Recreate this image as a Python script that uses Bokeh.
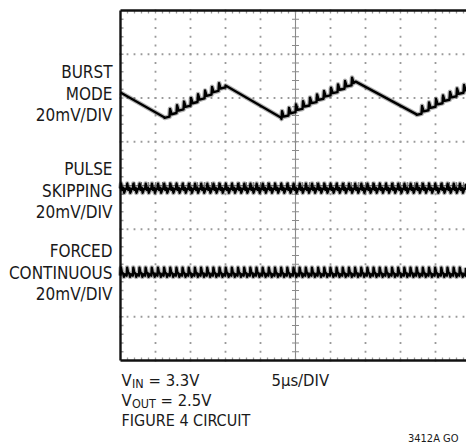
import numpy as np
from bokeh.plotting import figure
from bokeh.models import Range1d
from bokeh.core.properties import value
from bokeh.embed import file_html
from bokeh.resources import INLINE

# ---------------- data ----------------
# time in microseconds (5 us/div), voltage in mV (20 mV/div)
US_PER_DIV = 5.0
MV_PER_DIV = 20.0

# channel centre lines, in divisions from the bottom of the screen
burst_center_div = 6.0
pulse_center_div = 3.93
forced_center_div = 2.0

# Burst mode envelope vertices (time us, mV)
burst_t = [0.0, 6.3, 15.0, 22.9, 33.6, 42.3, 49.43]
burst_mv = [2.5, -8.9, 5.7, -8.9, 7.5, -7.5, 3.9]
burst_rising = [False, True, False, True, False, True]   # per segment
burst_pulse_period_us = 1.0
# ripple shape on rising segments: (phase, mV)
burst_ripple_phase = [0.0, 0.08, 0.3, 1.0]
burst_ripple_mv = [-0.8, 2.6, -0.2, -0.8]

# Pulse skipping ripple
pulse_period_us = 0.88
pulse_ripple_phase = [0.0, 0.1, 0.25, 0.45, 0.6, 0.8, 1.0]
pulse_ripple_mv = [0.0, 2.2, -0.6, 0.4, -1.9, -0.2, 0.0]

# Forced continuous ripple
forced_period_us = 0.88
forced_ripple_phase = [0.0, 0.08, 0.22, 0.45, 0.55, 0.72, 1.0]
forced_ripple_mv = [-1.2, 2.4, 0.3, -0.4, -1.7, -0.6, -1.2]

X_END = 49.43

left_labels = ["BURST", "MODE", "20mV/DIV",
               "PULSE", "SKIPPING", "20mV/DIV",
               "FORCED", "CONTINUOUS", "20mV/DIV"]

# ---------------- helpers ----------------
def tile(period, phases, mvs, t0, t1):
    ts, vs = [], []
    k = int(np.floor(t0 / period))
    while k * period < t1 + period:
        for ph, mv in zip(phases[:-1], mvs[:-1]):
            t = (k + ph) * period
            if t0 <= t <= t1:
                ts.append(t)
                vs.append(mv)
        k += 1
    return ts, vs


def burst_trace():
    ts, vs = [], []
    for i in range(len(burst_t) - 1):
        ta, tb = burst_t[i], burst_t[i + 1]
        va, vb = burst_mv[i], burst_mv[i + 1]
        if burst_rising[i]:
            rt, rv = tile(burst_pulse_period_us, burst_ripple_phase, burst_ripple_mv, ta, tb)
            ts.append(ta); vs.append(va)
            for t, r in zip(rt, rv):
                env = va + (vb - va) * (t - ta) / (tb - ta)
                ts.append(t); vs.append(env + r)
        else:
            ts.append(ta); vs.append(va)
    ts.append(burst_t[-1]); vs.append(burst_mv[-1])
    return ts, vs


def to_div(center, mvs):
    return [center + v / MV_PER_DIV for v in mvs]

# ---------------- figure (frame = whole canvas) ----------------
W, H = 466, 444
OX, OY = 0, 0           # page position of the canvas
PX_PER_US = 7.0
PX_PER_DIV = 43.75

def px2x(px):
    return (px - 120) / PX_PER_US

def py2y(py):
    return (360 - py) / PX_PER_DIV

p = figure(width=W, height=H,
           x_range=Range1d(px2x(OX), px2x(OX + W)),
           y_range=Range1d(py2y(OY + H), py2y(OY)),
           x_axis_type=None, y_axis_type=None,
           output_backend="svg", toolbar_location=None,
           min_border_left=0, min_border_right=0,
           min_border_top=0, min_border_bottom=0,
           outline_line_color=None, background_fill_color="white",
           border_fill_color="white")

T_MAX = 10 * US_PER_DIV
GRAY = "#9a9a9a"

# dotted graticule (dots at every fifth of a division)
vx = [US_PER_DIV * i for i in range(1, 10) if i != 5]
hy = [1, 2, 3, 5, 6, 7]
sub_y = np.arange(0, 8.001, 0.2)
sub_x = np.arange(0, T_MAX + 0.001, 1.0)
dx = np.concatenate([np.full(len(sub_y), x) for x in vx] + [sub_x for _ in hy])
dy = np.concatenate([sub_y for _ in vx] + [np.full(len(sub_x), y) for y in hy])
p.scatter(dx, dy, marker="square", size=1.8, line_color=None, fill_color=GRAY)

# centre cross lines with minor ticks
p.segment(x0=[25], y0=[0], x1=[25], y1=[8], line_color="#8a8a8a", line_width=1.1)
p.segment(x0=[0], y0=[4], x1=[T_MAX], y1=[4], line_color="#8a8a8a", line_width=1.1)
ty = np.arange(0.2, 8, 0.2)
p.segment(x0=25 - 3.5 / PX_PER_US, y0=ty, x1=25 + 3.5 / PX_PER_US, y1=ty,
          line_color="#8a8a8a", line_width=1.2)
tx = np.arange(1, T_MAX, 1.0)
p.segment(x0=tx, y0=4 - 3.5 / PX_PER_DIV, x1=tx, y1=4 + 3.5 / PX_PER_DIV,
          line_color="#8a8a8a", line_width=1.2)

# border ticks
p.segment(x0=tx, y0=8 - 3 / PX_PER_DIV, x1=tx, y1=8, line_color=GRAY, line_width=1.3)
p.segment(x0=tx, y0=0, x1=tx, y1=3 / PX_PER_DIV, line_color=GRAY, line_width=1.3)
p.segment(x0=0, y0=ty, x1=3 / PX_PER_US, y1=ty, line_color=GRAY, line_width=1.3)

# borders
p.segment(x0=[0, 0, 0], y0=[0, 8, 0], x1=[T_MAX, T_MAX, 0], y1=[0, 8, 8],
          line_color="#111111", line_width=2.4)

# traces
bt, bv = burst_trace()
pt, pv = tile(pulse_period_us, pulse_ripple_phase, pulse_ripple_mv, 0, X_END)
ft, fv = tile(forced_period_us, forced_ripple_phase, forced_ripple_mv, 0, X_END)
for t, v, c in [(bt, bv, burst_center_div), (pt, pv, pulse_center_div), (ft, fv, forced_center_div)]:
    y = to_div(c, v)
    p.line(t, y, line_color="#000000", line_width=4.8, line_alpha=0.3, line_join="round")
    p.line(t, y, line_color="#000000", line_width=2.4, line_join="round")

# ---------------- texts ----------------
FONT = "DejaVu Sans Condensed"
TXT = "#1a1a1a"

def lab(text, px, py, size, align="left"):
    p.text(x=[px2x(px)], y=[py2y(py)], text=[text], text_font=value(FONT),
           text_font_size=f"{size}px", text_color=TXT,
           text_align=align, text_baseline="middle")

left_py = [71.5, 93, 114, 168, 190, 211, 250, 272, 293]
for txt, py in zip(left_labels, left_py):
    lab(txt, 112, py, 17, "right")

lab("V", 121, 380, 16.5)
lab("IN", 131.5, 383, 12.5)
lab("= 3.3V", 148, 380, 16.5)
lab("V", 121, 400, 16.5)
lab("OUT", 131.5, 403, 12.5)
lab("= 2.5V", 160, 400, 16.5)
lab("FIGURE 4 CIRCUIT", 121, 420, 16)
lab("5\u00b5s/DIV", 271, 380, 16.5)
lab("3412A GO", 458, 438, 11, "right")

open("out.html", "w").write(file_html(p, INLINE))
